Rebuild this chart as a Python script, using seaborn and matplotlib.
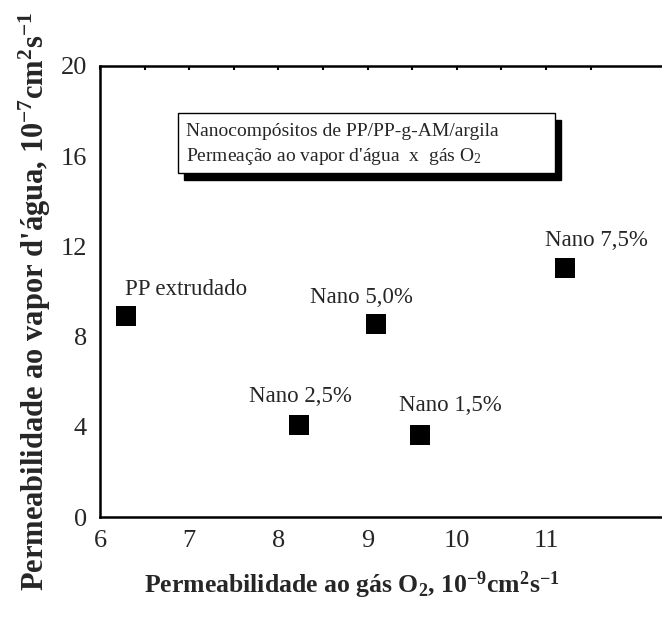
import matplotlib
matplotlib.use("Agg")
import matplotlib.pyplot as plt
import seaborn as sns
import pandas as pd
from matplotlib.ticker import FixedLocator

# Permeability of PP/PP-g-AM/clay nanocomposites
samples = ["PP extrudado", "Nano 2,5%", "Nano 5,0%", "Nano 1,5%", "Nano 7,5%"]
o2_perm = [6.29, 8.23, 9.09, 9.59, 11.21]      # 10^-9 cm^2 s^-1
water_perm = [8.9, 4.1, 8.55, 3.65, 11.05]      # 10^-7 cm^2 s^-1
label_offsets = [(43, 19), (1, 20), (-10, 19), (22, 21), (23, 20)]  # points

x_major = [6, 7, 8, 9, 10, 11]
x_minor = [6.5, 7.5, 8.5, 9.5, 10.5, 11.5]
y_major = [0, 4, 8, 12, 16, 20]
y_minor = [2, 6, 10, 14, 18]

df = pd.DataFrame({"sample": samples, "o2": o2_perm, "h2o": water_perm})

sns.set_theme(style="white")
plt.rcParams["font.family"] = ["Liberation Serif", "DejaVu Serif"]
plt.rcParams["mathtext.fontset"] = "custom"
plt.rcParams["mathtext.rm"] = "Liberation Serif"
plt.rcParams["mathtext.bf"] = "Liberation Serif:bold"
plt.rcParams["mathtext.it"] = "Liberation Serif:italic"

W, H = 662, 618
X0, X1, Y0, Y1 = 100, 662, 66, 517      # axes frame in pixels
PX_PER_UNIT = 89.2
fig = plt.figure(figsize=(W / 100, H / 100), dpi=100)
ax = fig.add_axes([X0 / W, 1 - Y1 / H, (X1 - X0) / W, (Y1 - Y0) / H])

sns.scatterplot(data=df, x="o2", y="h2o", marker="s", s=190, color="black",
                edgecolor="black", linewidth=0, ax=ax, legend=False, zorder=3)

for name, x, y, off in zip(samples, o2_perm, water_perm, label_offsets):
    ax.annotate(name, (x, y), xytext=off, textcoords="offset points",
                ha="center", va="center", fontsize=16.5)

ax.set_xlim(6, 6 + (X1 - X0) / PX_PER_UNIT)
ax.set_ylim(0, 20)
ax.xaxis.set_major_locator(FixedLocator(x_major))
ax.xaxis.set_minor_locator(FixedLocator(x_minor))
ax.yaxis.set_major_locator(FixedLocator(y_major))
ax.yaxis.set_minor_locator(FixedLocator(y_minor))

for side in ["left", "bottom", "top"]:
    ax.spines[side].set_color("black")
    ax.spines[side].set_linewidth(1.8)
ax.spines["right"].set_visible(False)

ax.tick_params(axis="both", which="major", direction="out", length=6.5,
               width=1.5, color="black", labelsize=19, pad=3,
               top=False, right=False)
ax.tick_params(axis="both", which="minor", direction="out", length=3,
               width=1.5, color="black", top=False, right=False)
# small inward ticks along the top edge
top = ax.secondary_xaxis("top")
top.xaxis.set_major_locator(FixedLocator(sorted(x_major + x_minor)))
top.tick_params(direction="in", length=3, width=1.5, color="black", labeltop=False)
top.spines["top"].set_visible(False)

ax.set_xlabel(r"Permeabilidade ao gás O$_\mathbf{2}$, 10$^\mathbf{-9}$cm$^\mathbf{2}$s$^\mathbf{-1}$",
              fontsize=18.5, fontweight="bold", va="center", ha="center")
ax.xaxis.set_label_coords((352 - X0) / (X1 - X0), (Y1 - 585) / (Y1 - Y0))
ax.set_ylabel(r"Permeabilidade ao vapor d'água, 10$^\mathbf{-7}$cm$^\mathbf{2}$s$^\mathbf{-1}$",
              fontsize=22, fontweight="bold", va="center", ha="center")
ax.yaxis.set_label_coords((35 - X0) / (X1 - X0), (Y1 - 302) / (Y1 - Y0))

# caption box with a solid drop shadow
box_text = "Nanocompósitos de PP/PP-g-AM/argila\nPermeação ao vapor d'água  x  gás O$_2$"
bx0, by0, bx1, by1 = 178, 113, 555, 173
shadow = plt.Rectangle(((bx0 + 6) / W, 1 - (by1 + 7) / H), (bx1 - bx0) / W, (by1 - by0) / H,
                       transform=fig.transFigure, facecolor="black", edgecolor="black", zorder=4)
frame = plt.Rectangle((bx0 / W, 1 - by1 / H), (bx1 - bx0) / W, (by1 - by0) / H,
                      transform=fig.transFigure, facecolor="white", edgecolor="black",
                      linewidth=1.0, zorder=5)
fig.add_artist(shadow)
fig.add_artist(frame)
fig.text((bx0 + 8) / W, 1 - ((by0 + by1) / 2 + 2) / H, box_text, ha="left", va="center",
         fontsize=14, linespacing=1.35, zorder=6)

fig.savefig("out.png", dpi=100)
